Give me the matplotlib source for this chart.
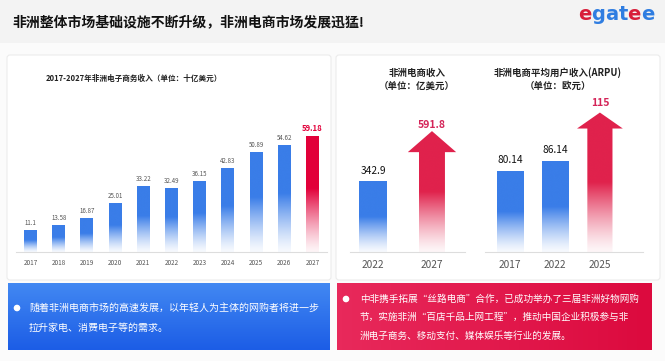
import numpy as np
import matplotlib
matplotlib.use("Agg")
import matplotlib.pyplot as plt
from matplotlib.patches import FancyBboxPatch, Polygon, Circle, Rectangle
from matplotlib.colors import to_rgb

plt.rcParams['font.family'] = ['Noto Sans CJK SC', 'DejaVu Sans']

# data
years_all = ["2017", "2018", "2019", "2020", "2021", "2022", "2023", "2024", "2025", "2026", "2027"]
revenue_all = [11.1, 13.58, 16.87, 25.01, 33.22, 32.49, 36.15, 42.83, 50.89, 54.62, 59.18]

years_rev = ["2022", "2027"]
revenue_rev = [342.9, 591.8]

years_arpu = ["2017", "2022", "2025"]
arpu = [80.14, 86.14, 115]

title = "非洲整体市场基础设施不断升级，非洲电商市场发展迅猛!"
left_title = "2017-2027年非洲电子商务收入（单位：十亿美元）"
rev_title = "非洲电商收入\n（单位：亿美元）"
arpu_title = "非洲电商平均用户收入(ARPU)\n（单位：欧元）"
blue_text = ["随着非洲电商市场的高速发展，以年轻人为主体的网购者将进一步",
             "拉升家电、消费电子等的需求。"]
red_text = ["中非携手拓展“丝路电商”合作，已成功举办了三届非洲好物网购",
            "节，实施非洲“百店千品上网工程”，推动中国企业积极参与非",
            "洲电子商务、移动支付、媒体娱乐等行业的发展。"]

BLUE = "#3a7de8"
RED = "#e2003a"
ARROW_RED = "#e0224c"
GRAY = "#555555"

W, H = 665, 361


def box(px0, py0, px1, py1):
    # pixel box (top-left origin) -> figure fraction
    return [px0 / W, 1 - py1 / H, (px1 - px0) / W, (py1 - py0) / H]


def grad_img(color, solid=0.5, low=0.04, n=256):
    t = np.linspace(0, 1, n)
    a = np.clip(t / (1 - solid), 0, 1)
    a = low + (1 - low) * a ** 1.3
    rgb = np.array(to_rgb(color))
    img = 1 - a[:, None, None] * (1 - rgb[None, None, :])
    return img


def grad_bar(ax, x, h, w, color, ybot=0, solid=0.5):
    ax.imshow(grad_img(color, solid), extent=[x - w / 2, x + w / 2, ybot, h],
              origin='lower', aspect='auto', interpolation='bicubic', zorder=2)


def grad_arrow(ax, x, h, ybot, shaft_w, head_w, head_len, color):
    verts = [(x - shaft_w / 2, ybot), (x - shaft_w / 2, h - head_len),
             (x - head_w / 2, h - head_len), (x, h),
             (x + head_w / 2, h - head_len), (x + shaft_w / 2, h - head_len),
             (x + shaft_w / 2, ybot)]
    poly = Polygon(verts, closed=True, facecolor='none', edgecolor='none')
    ax.add_patch(poly)
    im = ax.imshow(grad_img(color, solid=0.5), extent=[x - head_w / 2, x + head_w / 2, ybot, h],
                   origin='lower', aspect='auto', interpolation='bicubic', zorder=2)
    im.set_clip_path(poly)


fig = plt.figure(figsize=(6.65, 3.61), dpi=100)
fig.patch.set_facecolor("#fbfbfb")

# background layer in pixel coords
bg = fig.add_axes([0, 0, 1, 1])
bg.set_xlim(0, W)
bg.set_ylim(H, 0)
bg.axis('off')
bg.add_patch(Rectangle((0, 0), W, 43, facecolor="#f3f3f3", edgecolor='none'))
bg.text(12, 22, title, fontsize=10, fontweight='bold', color="#111111", va='center', ha='left')

# logo
logo = [("e", 578, "#d81e3a"), ("g", 591.5, "#2f7de1"), ("a", 605, "#2f7de1"),
        ("t", 618.5, "#2f7de1"), ("e", 627, "#d81e3a"), ("e", 641, "#2f7de1")]
for ch, lx, c in logo:
    bg.text(lx, 15, ch, fontsize=14, fontweight='bold', color=c, va='center', ha='left',
            family='DejaVu Sans')

# cards
for x0, x1 in [(7, 331), (336, 660)]:
    bg.add_patch(FancyBboxPatch((x0, 55), x1 - x0, 225, boxstyle="round,pad=0,rounding_size=3",
                                facecolor="white", edgecolor="#ececec", lw=0.8))

# bottom text boxes
nb = 64
tb = np.linspace(0, 1, nb)[:, None]
blue_grad = np.array(to_rgb("#4288f2")) * (1 - tb[..., None]) + np.array(to_rgb("#1c5de6")) * tb[..., None]
bg.imshow(blue_grad, extent=[8, 330, 350, 283], aspect='auto', zorder=1)
tr = np.linspace(0, 1, nb)[None, :]
red_grad = np.array(to_rgb("#e8295b")) * (1 - tr[..., None]) + np.array(to_rgb("#dc0a3e")) * tr[..., None]
bg.imshow(red_grad, extent=[337, 652, 350, 283], aspect='auto', zorder=1)
bg.set_xlim(0, W)
bg.set_ylim(H, 0)

bg.add_patch(Circle((17, 308), 2.6, color='white', zorder=3))
for i, line in enumerate(blue_text):
    bg.text(29, 308 + i * 20, line, fontsize=7.2, color='white', va='center', ha='left', zorder=3)
bg.add_patch(Circle((346, 299), 2.6, color='white', zorder=3))
for i, line in enumerate(red_text):
    bg.text(360, 299 + i * 18.5, line, fontsize=6.9, color='white', va='center', ha='left', zorder=3)

# left chart
bg.text(134, 78, left_title, fontsize=5.5, fontweight='bold', color="#222222", ha='center', va='center')
ax1 = fig.add_axes(box(16.4, 115, 326.6, 252))
ax1.patch.set_alpha(0)
x = np.arange(len(years_all))
for i, v in enumerate(revenue_all):
    last = i == len(revenue_all) - 1
    grad_bar(ax1, x[i], v, 0.46, RED if last else BLUE, solid=0.45)
    ax1.text(x[i], v + 1.8, f"{v:g}" if not last else f"{v:.2f}",
             ha='center', va='bottom',
             fontsize=5.6 if last else 4.4,
             fontweight='bold' if last else 'normal',
             color=RED if last else GRAY)
ax1.set_xlim(-0.5, len(years_all) - 0.5)
ax1.set_ylim(0, 70)
ax1.set_xticks(x)
ax1.set_xticklabels(years_all, fontsize=4.6, color=GRAY)
ax1.tick_params(axis='x', length=0, pad=5)
ax1.set_yticks([])
for s in ['top', 'right', 'left']:
    ax1.spines[s].set_visible(False)
ax1.spines['bottom'].set_color("#dddddd")
ax1.spines['bottom'].set_linewidth(0.8)

# right chart 1: revenue
bg.text(417, 79, rev_title, fontsize=6.8, fontweight='bold', color="#222222", ha='center',
        va='center', linespacing=1.35)
ax2 = fig.add_axes(box(350, 109, 465, 252))
ax2.patch.set_alpha(0)
x2 = np.arange(len(years_rev))
grad_bar(ax2, x2[0], revenue_rev[0], 0.46, BLUE, solid=0.5)
ax2.text(x2[0], revenue_rev[0] + 30, f"{revenue_rev[0]:g}", ha='center', va='bottom',
         fontsize=7.3, color="#111111")
grad_arrow(ax2, x2[1], revenue_rev[1], 0, 0.44, 0.82, 103, ARROW_RED)
ax2.text(x2[1], revenue_rev[1] + 6, f"{revenue_rev[1]:g}", ha='center', va='bottom',
         fontsize=7.5, fontweight='bold', color="#d42458")
ax2.set_xlim(-0.39, 1.56)
ax2.set_ylim(0, 700)
ax2.set_xticks(x2)
ax2.set_xticklabels(years_rev, fontsize=7.3, color=GRAY)
ax2.tick_params(axis='x', length=0, pad=6)
ax2.set_yticks([])

# right chart 2: ARPU
bg.text(558, 79, arpu_title, fontsize=6.8, fontweight='bold', color="#222222", ha='center',
        va='center', linespacing=1.35)
ax3 = fig.add_axes(box(485, 100, 643, 252))
ax3.patch.set_alpha(0)
x3 = np.arange(len(years_arpu))
ybase = 32
for i in range(2):
    grad_bar(ax3, x3[i], arpu[i], 0.58, BLUE, ybot=ybase, solid=0.5)
    ax3.text(x3[i], arpu[i] + 3.5, f"{arpu[i]:g}", ha='center', va='bottom',
             fontsize=7.3, color="#111111")
grad_arrow(ax3, x3[2], arpu[2], ybase, 0.56, 1.02, 9.5, ARROW_RED)
ax3.text(x3[2], arpu[2] + 3, f"{arpu[2]:g}", ha='center', va='bottom',
         fontsize=7.5, fontweight='bold', color="#d42458")
ax3.set_xlim(-0.56, 2.96)
ax3.set_ylim(ybase, ybase + 152 / 1.68)
ax3.set_xticks(x3)
ax3.set_xticklabels(years_arpu, fontsize=7.3, color=GRAY)
ax3.tick_params(axis='x', length=0, pad=6)
ax3.set_yticks([])

for a in (ax2, ax3):
    for s in ['top', 'right', 'left']:
        a.spines[s].set_visible(False)
    a.spines['bottom'].set_color("#dddddd")
    a.spines['bottom'].set_linewidth(0.8)

fig.savefig("out.png", dpi=100, facecolor=fig.get_facecolor())
